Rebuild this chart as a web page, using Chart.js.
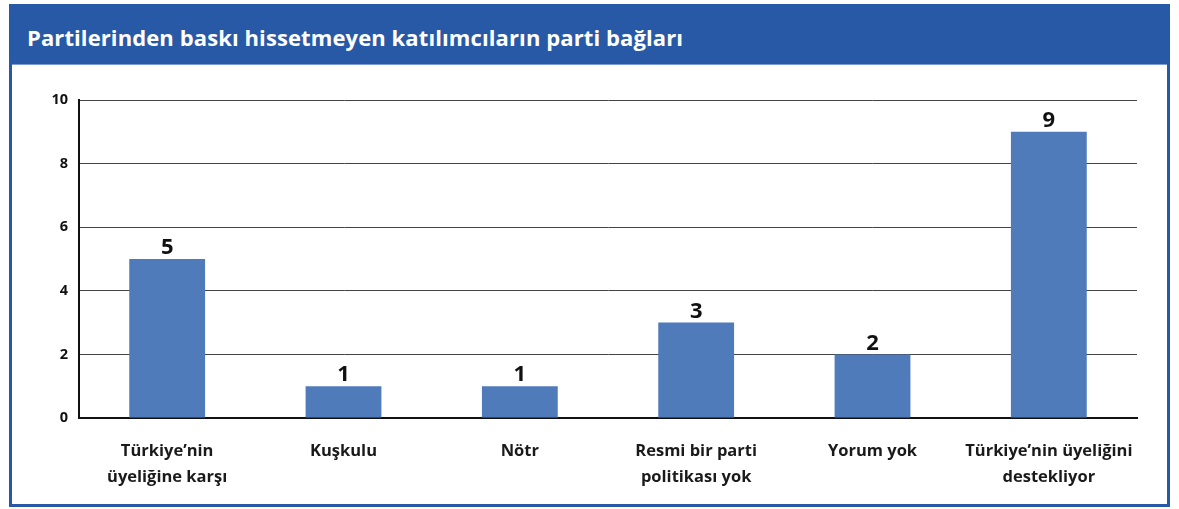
<!DOCTYPE html>
<html>
<head>
<meta charset="utf-8">
<script src="https://cdn.jsdelivr.net/npm/chart.js@4/dist/chart.umd.min.js"></script>
<style>
  html, body { margin: 0; padding: 0; background: #fff; }
  #frame {
    position: absolute; left: 9px; top: 4px; width: 1155px; height: 497px;
    border: 3px solid #2759a6; background: #fff;
  }
  #head {
    position: absolute; left: 0; top: 0; width: 100%; height: 57px;
    background: #2759a6; border-bottom: 1px solid #7d9cd0;
  }
  #head h1 {
    margin: 0; padding: 15px 0 0 15px; color: #fff;
    font: bold 22px "Open Sans", sans-serif; letter-spacing: 0.1px;
  }
  #wrap { position: absolute; left: 0; top: 60px; width: 1155px; height: 437px; }
</style>
</head>
<body>
<div id="frame">
  <div id="head"><h1>Partilerinden baskı hissetmeyen katılımcıların parti bağları</h1></div>
  <div id="wrap"><canvas id="c"></canvas></div>
</div>
<script>
// categories and values
var categories = [
  ['Türkiye’nin', 'üyeliğine karşı'],
  'Kuşkulu',
  'Nötr',
  ['Resmi bir parti', 'politikası yok'],
  'Yorum yok',
  ['Türkiye’nin üyeliğini', 'destekliyor']
];
var counts = [5, 1, 1, 3, 2, 9];
var yTicks = [0, 2, 4, 6, 8, 10];

// simple value labels over each bar
var valueLabels = {
  id: 'valueLabels',
  afterDatasetsDraw: function(chart) {
    var ctx = chart.ctx;
    var meta = chart.getDatasetMeta(0);
    ctx.save();
    ctx.fillStyle = '#111';
    ctx.font = 'bold 22px "Open Sans", sans-serif';
    ctx.textAlign = 'center';
    ctx.textBaseline = 'bottom';
    meta.data.forEach(function(bar, i) {
      ctx.fillText(String(counts[i]), bar.x, bar.y);
    });
    ctx.restore();
  }
};

new Chart(document.getElementById('c'), {
  type: 'bar',
  data: {
    labels: categories,
    datasets: [{
      data: counts,
      backgroundColor: '#4f7bbb',
      barPercentage: 0.43,
      categoryPercentage: 1.0
    }]
  },
  options: {
    responsive: true,
    maintainAspectRatio: false,
    animation: false,
    layout: { padding: { top: 33, right: 30, left: 0, bottom: 0 } },
    plugins: { legend: { display: false }, tooltip: { enabled: false } },
    scales: {
      x: {
        grid: { display: false, drawTicks: false },
        border: { color: '#111', width: 2 },
        ticks: {
          color: '#1a1a1a',
          padding: 21,
          maxRotation: 0,
          autoSkip: false,
          font: { family: '"Open Sans", sans-serif', size: 16.5, weight: 'bold', lineHeight: 1.55 }
        },
        afterFit: function(s) { s.height = 86; }
      },
      y: {
        min: 0, max: 10,
        afterBuildTicks: function(s) { s.ticks = yTicks.map(function(v) { return { value: v }; }); },
        grid: { color: '#444', lineWidth: 1, drawTicks: false },
        border: { color: '#111', width: 2 },
        ticks: {
          color: '#111',
          padding: 11,
          font: { family: '"Open Sans", sans-serif', size: 14.5, weight: 'bold' }
        },
        afterFit: function(s) { s.width = 67; }
      }
    }
  },
  plugins: [valueLabels]
});
</script>
</body>
</html>
